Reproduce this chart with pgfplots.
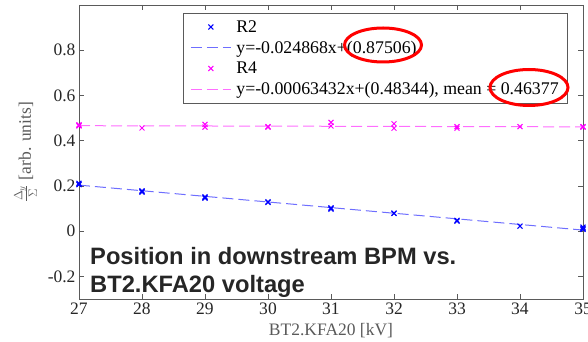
\documentclass[border=0pt]{standalone}
\usepackage{pgfplots}
\pgfplotsset{compat=1.18}
\usepackage{fontspec}
\setmainfont{Liberation Serif}
\newfontfamily\annfont{Liberation Sans}
\definecolor{axgray}{RGB}{90,90,90}
\definecolor{mblue}{RGB}{0,0,255}
\definecolor{mmag}{RGB}{255,0,255}
\definecolor{lblue}{RGB}{110,110,255}
\definecolor{lmag}{RGB}{255,110,255}
\begin{document}
\begin{tikzpicture}
\begin{axis}[
  at={(0pt,0pt)}, anchor=south west,
  scale only axis, width=504pt, height=294pt,
  xmin=27, xmax=35, ymin=-0.3, ymax=1.0,
  xtick={27,28,...,35},
  ytick={-0.2,0,0.2,0.4,0.6,0.8},
  /pgf/number format/assume math mode=true,
  tick label style={font=\fontsize{17.5}{20}\selectfont, text=black!85},
  axis line style={axgray, line width=0.8pt},
  tick style={axgray, line width=0.6pt},
  major tick length=5pt,
  tick align=inside,
  xlabel={BT2.KFA20 [kV]},
  xlabel style={font=\fontsize{17.5}{20}\selectfont, text=axgray, yshift=-2pt},
  ylabel={$\frac{\Delta_y}{\Sigma}$ [arb. units]},
  ylabel style={font=\fontsize{17.5}{20}\selectfont, text=axgray, yshift=4pt},
  legend style={at={(0.2063,0.973)}, anchor=north west, draw=axgray, line width=0.8pt,
    font=\fontsize{17.8}{21}\selectfont, row sep=3.2pt, inner xsep=7pt, inner ysep=5pt},
  legend cell align=left,
  every axis plot/.append style={legend image code/.code={%
    \draw[mark repeat=2,mark phase=2,#1] plot coordinates {(0pt,0pt) (20pt,0pt) (40pt,0pt)};}},
  clip=false,
]
\addplot[only marks, mark=x, mark size=3.5pt, mblue, line width=1pt] coordinates {
(27,0.212) (27,0.205) (27,0.208)
(28,0.178) (28,0.172) (28,0.175)
(29,0.152) (29,0.146) (29,0.149)
(30,0.130) (30,0.127)
(31,0.103) (31,0.097) (31,0.100)
(32,0.080) (32,0.078)
(33,0.048) (33,0.044)
(34,0.022)
(35,0.018) (35,0.012) (35,0.008)
};
\addlegendentry{\hspace{3pt}R2}
\addplot[lblue, dash pattern=on 11pt off 5pt, line width=1pt] coordinates {(27,0.2036) (35,0.0047)};
\addlegendentry{\hspace{3pt}y=-0.024868x+(0.87506)}
\addplot[only marks, mark=x, mark size=3.5pt, mmag, line width=1pt] coordinates {
(27,0.470) (27,0.465) (27,0.468)
(28,0.456)
(29,0.472) (29,0.460)
(30,0.462) (30,0.460)
(31,0.481) (31,0.465)
(32,0.475) (32,0.455)
(33,0.462) (33,0.455)
(34,0.462)
(35,0.462) (35,0.460)
};
\addlegendentry{\hspace{3pt}R4}
\addplot[lmag, dash pattern=on 11pt off 5pt, line width=1pt] coordinates {(27,0.4663) (35,0.4612)};
\addlegendentry{\hspace{3pt}y=-0.00063432x+(0.48344), mean = 0.46377\hspace{4pt}}
\end{axis}
\node[anchor=base west, align=left, font=\annfont\bfseries\fontsize{23.7}{28}\selectfont, text=black!85, inner sep=0pt] at (11pt,34pt) {Position in downstream BPM vs.};
\node[anchor=base west, align=left, font=\annfont\bfseries\fontsize{23.7}{28}\selectfont, text=black!85, inner sep=0pt] at (11pt,6pt) {BT2.KFA20 voltage};
\draw[red, line width=3pt] (304pt,254pt) ellipse [x radius=38.5pt, y radius=17pt];
\draw[red, line width=3pt] (450pt,211.5pt) ellipse [x radius=39pt, y radius=18pt];
\pgfresetboundingbox
\useasboundingbox (-79pt,-43pt) rectangle (509pt,299pt);
\end{tikzpicture}
\end{document}
